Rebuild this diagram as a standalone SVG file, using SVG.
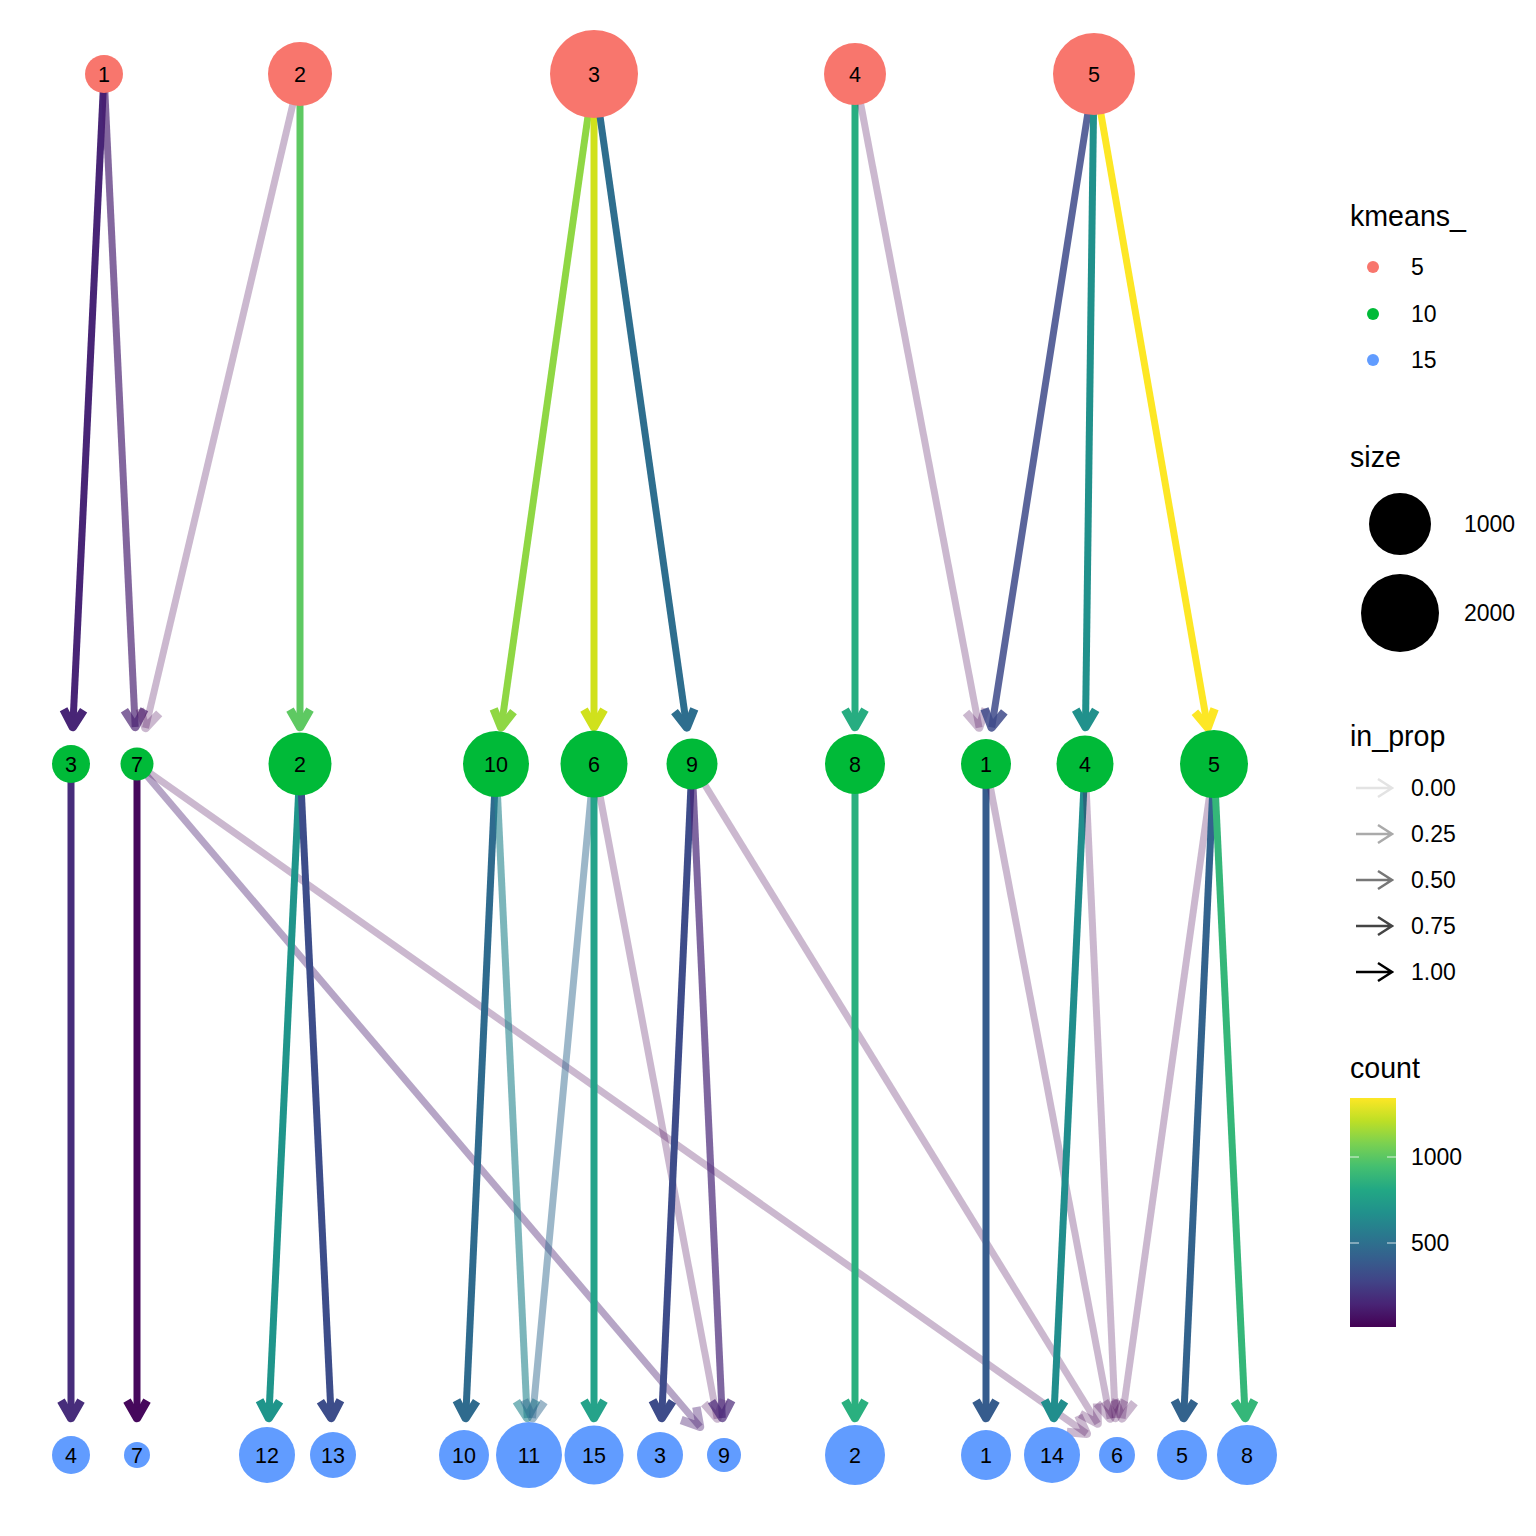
<svg xmlns="http://www.w3.org/2000/svg" width="1536" height="1536" viewBox="0 0 1536 1536">
<defs>
<style>
.e{fill:none;stroke-width:7;stroke-linejoin:round;stroke-linecap:butt}
.h{stroke-width:8.5}
.lo{stroke:#440154;stroke-opacity:0.28}
.n5{fill:#F8766D}.n10{fill:#00BA38}.n15{fill:#619CFF}
text{font-family:"Liberation Sans",Arial,sans-serif;fill:#000}
.lb{font-size:21.5px;text-anchor:middle}
.lt{font-size:28.6px}
.ll{font-size:23px}
</style>
<linearGradient id="vir" x1="0" y1="1" x2="0" y2="0">
<stop offset="0" stop-color="#440154"/><stop offset="0.1" stop-color="#482475"/><stop offset="0.2" stop-color="#414487"/><stop offset="0.3" stop-color="#355f8d"/><stop offset="0.4" stop-color="#2a788e"/><stop offset="0.5" stop-color="#21918c"/><stop offset="0.6" stop-color="#22a884"/><stop offset="0.7" stop-color="#44bf70"/><stop offset="0.8" stop-color="#7ad151"/><stop offset="0.9" stop-color="#bddf26"/><stop offset="1" stop-color="#fde725"/>
</linearGradient>
</defs>
<rect width="1536" height="1536" fill="#fff"/>
<g id="edges">
<g stroke="#482576"><path class="e" d="M104 74L72.8 727"/><path class="e h" d="M83.6 710.2L72.8 727L63.6 709.2"/></g>
<g stroke="#481f70" stroke-opacity="0.68"><path class="e" d="M104 74L135.2 727"/><path class="e h" d="M144.4 709.2L135.2 727L124.4 710.2"/></g>
<g class="lo"><path class="e" d="M300 74L145.5 728"/><path class="e h" d="M159.2 713.4L145.5 728L139.8 708.8"/></g>
<g stroke="#5ec962"><path class="e" d="M300 74L300 727"/><path class="e h" d="M310 709.7L300 727L290 709.7"/></g>
<g stroke="#8fd744"><path class="e" d="M594 74L501.2 727.4"/><path class="e h" d="M513.5 711.7L501.2 727.4L493.7 708.8"/></g>
<g stroke="#d0e11c"><path class="e" d="M594 74L594 727"/><path class="e h" d="M604 709.7L594 727L584 709.7"/></g>
<g stroke="#2e6e8e"><path class="e" d="M594 74L686.8 727.4"/><path class="e h" d="M694.3 708.8L686.8 727.4L674.5 711.7"/></g>
<g stroke="#27ad81"><path class="e" d="M855 74L855 727"/><path class="e h" d="M865 709.7L855 727L845 709.7"/></g>
<g class="lo"><path class="e" d="M855 74L979.1 727.6"/><path class="e h" d="M985.7 708.7L979.1 727.6L966 712.5"/></g>
<g stroke="#3e4a89" stroke-opacity="0.85"><path class="e" d="M1094 74L991.7 727.4"/><path class="e h" d="M1004.3 711.8L991.7 727.4L984.5 708.7"/></g>
<g stroke="#21918c"><path class="e" d="M1094 74L1085.5 727"/><path class="e h" d="M1095.7 709.8L1085.5 727L1075.7 709.6"/></g>
<g stroke="#fde725"><path class="e" d="M1094 74L1207.7 727.5"/><path class="e h" d="M1214.6 708.7L1207.7 727.5L1194.9 712.2"/></g>
<g stroke="#472d7b"><path class="e" d="M71 764L71 1418"/><path class="e h" d="M81 1400.7L71 1418L61 1400.7"/></g>
<g stroke="#46085c"><path class="e" d="M137 764L137 1418"/><path class="e h" d="M147 1400.7L137 1418L127 1400.7"/></g>
<g stroke="#481f70" stroke-opacity="0.4"><path class="e" d="M137 764L700 1426.8"/><path class="e h" d="M696.4 1407.1L700 1426.8L681.2 1420.1"/></g>
<g class="lo"><path class="e" d="M137 764L1086.8 1433.7"/><path class="e h" d="M1078.4 1415.5L1086.8 1433.7L1066.9 1431.9"/></g>
<g stroke="#1f958b"><path class="e" d="M300 764L268.8 1418"/><path class="e h" d="M279.6 1401.2L268.8 1418L259.6 1400.2"/></g>
<g stroke="#3d4d8a"><path class="e" d="M300 764L331.2 1418"/><path class="e h" d="M340.4 1400.2L331.2 1418L320.4 1401.2"/></g>
<g stroke="#2f6b8e"><path class="e" d="M496 764L465.7 1418"/><path class="e h" d="M476.5 1401.2L465.7 1418L456.5 1400.2"/></g>
<g stroke="#24868e" stroke-opacity="0.6"><path class="e" d="M496 764L527.2 1418"/><path class="e h" d="M536.4 1400.2L527.2 1418L516.4 1401.2"/></g>
<g stroke="#31688e" stroke-opacity="0.48"><path class="e" d="M594 764L532.5 1418.2"/><path class="e h" d="M544.1 1401.9L532.5 1418.2L524.2 1400"/></g>
<g stroke="#25a38a"><path class="e" d="M594 764L594 1418"/><path class="e h" d="M604 1400.7L594 1418L584 1400.7"/></g>
<g class="lo"><path class="e" d="M594 764L717.2 1418.6"/><path class="e h" d="M723.8 1399.7L717.2 1418.6L704.2 1403.4"/></g>
<g stroke="#3e4c8a"><path class="e" d="M692 764L661.7 1418"/><path class="e h" d="M672.5 1401.2L661.7 1418L652.5 1400.2"/></g>
<g stroke="#482677" stroke-opacity="0.7"><path class="e" d="M692 764L722.3 1418"/><path class="e h" d="M731.5 1400.2L722.3 1418L711.5 1401.2"/></g>
<g class="lo"><path class="e" d="M692 764L1097.6 1423.5"/><path class="e h" d="M1097.1 1403.5L1097.6 1423.5L1080 1414"/></g>
<g stroke="#2ab07f"><path class="e" d="M855 764L855 1418"/><path class="e h" d="M865 1400.7L855 1418L845 1400.7"/></g>
<g stroke="#365c8d"><path class="e" d="M986 764L986 1418"/><path class="e h" d="M996 1400.7L986 1418L976 1400.7"/></g>
<g class="lo"><path class="e" d="M986 764L1110.1 1418.6"/><path class="e h" d="M1116.7 1399.7L1110.1 1418.6L1097 1403.4"/></g>
<g stroke="#218e8d"><path class="e" d="M1085 764L1053.8 1418"/><path class="e h" d="M1064.6 1401.2L1053.8 1418L1044.6 1400.2"/></g>
<g class="lo"><path class="e" d="M1085 764L1115.3 1418"/><path class="e h" d="M1124.5 1400.2L1115.3 1418L1104.5 1401.2"/></g>
<g class="lo"><path class="e" d="M1214 764L1122.1 1418.4"/><path class="e h" d="M1134.4 1402.6L1122.1 1418.4L1114.6 1399.9"/></g>
<g stroke="#33638d"><path class="e" d="M1214 764L1183.7 1418"/><path class="e h" d="M1194.5 1401.2L1183.7 1418L1174.5 1400.2"/></g>
<g stroke="#35b779"><path class="e" d="M1214 764L1245.2 1418"/><path class="e h" d="M1254.4 1400.2L1245.2 1418L1234.4 1401.2"/></g>
</g>
<g id="k5_1"><circle class="n5" cx="104" cy="74" r="19"/><text class="lb" x="104" y="74" dy="0.35em">1</text></g>
<g id="k5_2"><circle class="n5" cx="300" cy="74" r="32"/><text class="lb" x="300" y="74" dy="0.35em">2</text></g>
<g id="k5_3"><circle class="n5" cx="594" cy="74" r="44"/><text class="lb" x="594" y="74" dy="0.35em">3</text></g>
<g id="k5_4"><circle class="n5" cx="855" cy="74" r="31"/><text class="lb" x="855" y="74" dy="0.35em">4</text></g>
<g id="k5_5"><circle class="n5" cx="1094" cy="74" r="41"/><text class="lb" x="1094" y="74" dy="0.35em">5</text></g>
<g id="k10_3"><circle class="n10" cx="71" cy="764" r="19"/><text class="lb" x="71" y="764" dy="0.35em">3</text></g>
<g id="k10_7"><circle class="n10" cx="137" cy="764" r="16.5"/><text class="lb" x="137" y="764" dy="0.35em">7</text></g>
<g id="k10_2"><circle class="n10" cx="300" cy="764" r="31.5"/><text class="lb" x="300" y="764" dy="0.35em">2</text></g>
<g id="k10_10"><circle class="n10" cx="496" cy="764" r="33"/><text class="lb" x="496" y="764" dy="0.35em">10</text></g>
<g id="k10_6"><circle class="n10" cx="594" cy="764" r="33.5"/><text class="lb" x="594" y="764" dy="0.35em">6</text></g>
<g id="k10_9"><circle class="n10" cx="692" cy="764" r="25.5"/><text class="lb" x="692" y="764" dy="0.35em">9</text></g>
<g id="k10_8"><circle class="n10" cx="855" cy="764" r="30"/><text class="lb" x="855" y="764" dy="0.35em">8</text></g>
<g id="k10_1"><circle class="n10" cx="986" cy="764" r="25"/><text class="lb" x="986" y="764" dy="0.35em">1</text></g>
<g id="k10_4"><circle class="n10" cx="1085" cy="764" r="28.5"/><text class="lb" x="1085" y="764" dy="0.35em">4</text></g>
<g id="k10_5"><circle class="n10" cx="1214" cy="764" r="34"/><text class="lb" x="1214" y="764" dy="0.35em">5</text></g>
<g id="k15_4"><circle class="n15" cx="71" cy="1455" r="19"/><text class="lb" x="71" y="1455" dy="0.35em">4</text></g>
<g id="k15_7"><circle class="n15" cx="137" cy="1455" r="13"/><text class="lb" x="137" y="1455" dy="0.35em">7</text></g>
<g id="k15_12"><circle class="n15" cx="267" cy="1455" r="28"/><text class="lb" x="267" y="1455" dy="0.35em">12</text></g>
<g id="k15_13"><circle class="n15" cx="333" cy="1455" r="23"/><text class="lb" x="333" y="1455" dy="0.35em">13</text></g>
<g id="k15_10"><circle class="n15" cx="464" cy="1455" r="25"/><text class="lb" x="464" y="1455" dy="0.35em">10</text></g>
<g id="k15_11"><circle class="n15" cx="529" cy="1455" r="33"/><text class="lb" x="529" y="1455" dy="0.35em">11</text></g>
<g id="k15_15"><circle class="n15" cx="594" cy="1455" r="29.5"/><text class="lb" x="594" y="1455" dy="0.35em">15</text></g>
<g id="k15_3"><circle class="n15" cx="660" cy="1455" r="23"/><text class="lb" x="660" y="1455" dy="0.35em">3</text></g>
<g id="k15_9"><circle class="n15" cx="724" cy="1455" r="17"/><text class="lb" x="724" y="1455" dy="0.35em">9</text></g>
<g id="k15_2"><circle class="n15" cx="855" cy="1455" r="30"/><text class="lb" x="855" y="1455" dy="0.35em">2</text></g>
<g id="k15_1"><circle class="n15" cx="986" cy="1455" r="25"/><text class="lb" x="986" y="1455" dy="0.35em">1</text></g>
<g id="k15_14"><circle class="n15" cx="1052" cy="1455" r="28"/><text class="lb" x="1052" y="1455" dy="0.35em">14</text></g>
<g id="k15_6"><circle class="n15" cx="1117" cy="1455" r="18"/><text class="lb" x="1117" y="1455" dy="0.35em">6</text></g>
<g id="k15_5"><circle class="n15" cx="1182" cy="1455" r="25"/><text class="lb" x="1182" y="1455" dy="0.35em">5</text></g>
<g id="k15_8"><circle class="n15" cx="1247" cy="1455" r="30"/><text class="lb" x="1247" y="1455" dy="0.35em">8</text></g>
<g id="legend">
<text class="lt" x="1350" y="226">kmeans_</text>
<circle class="n5" cx="1373" cy="267" r="6"/><text class="ll" x="1411" y="267" dy="0.35em">5</text>
<circle class="n10" cx="1373" cy="314" r="6"/><text class="ll" x="1411" y="314" dy="0.35em">10</text>
<circle class="n15" cx="1373" cy="360" r="6"/><text class="ll" x="1411" y="360" dy="0.35em">15</text>
<text class="lt" x="1350" y="467">size</text>
<circle cx="1400" cy="524" r="31" fill="#000"/><text class="ll" x="1464" y="524" dy="0.35em">1000</text>
<circle cx="1400" cy="613" r="39" fill="#000"/><text class="ll" x="1464" y="613" dy="0.35em">2000</text>
<text class="lt" x="1350" y="746">in_prop</text>
<g fill="none" stroke-width="2.5" stroke-linejoin="miter">
<path stroke="#e3e3e3" d="M1356 788H1391M1378 779L1392 788L1378 797"/>
<path stroke="#aaaaaa" d="M1356 834H1391M1378 825L1392 834L1378 843"/>
<path stroke="#777777" d="M1356 880H1391M1378 871L1392 880L1378 889"/>
<path stroke="#444444" d="M1356 926H1391M1378 917L1392 926L1378 935"/>
<path stroke="#000000" d="M1356 972H1391M1378 963L1392 972L1378 981"/>
</g>
<text class="ll" x="1411" y="788" dy="0.35em">0.00</text>
<text class="ll" x="1411" y="834" dy="0.35em">0.25</text>
<text class="ll" x="1411" y="880" dy="0.35em">0.50</text>
<text class="ll" x="1411" y="926" dy="0.35em">0.75</text>
<text class="ll" x="1411" y="972" dy="0.35em">1.00</text>
<text class="lt" x="1350" y="1078">count</text>
<rect x="1350" y="1098" width="46" height="229" fill="url(#vir)"/>
<g stroke="#fff" stroke-width="1" opacity="0.8">
<path d="M1350 1157H1359M1387 1157H1396M1350 1243H1359M1387 1243H1396"/>
</g>
<text class="ll" x="1411" y="1157" dy="0.35em">1000</text>
<text class="ll" x="1411" y="1243" dy="0.35em">500</text>
</g>
</svg>
